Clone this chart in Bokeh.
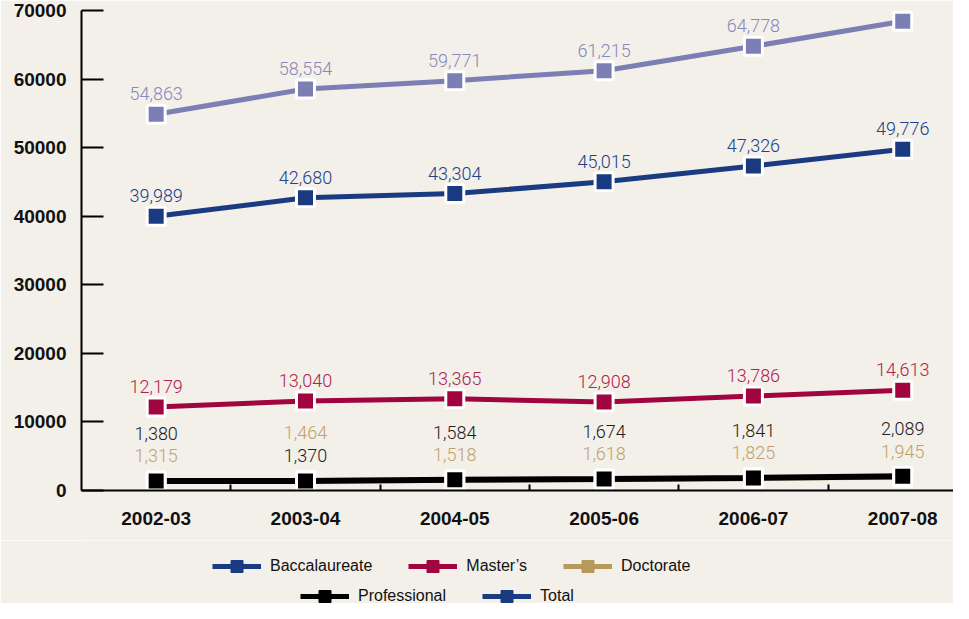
from bokeh.plotting import figure
from bokeh.layouts import column
from bokeh.models import ColumnDataSource, LabelSet, FixedTicker, Range1d, Legend, LegendItem
from bokeh.core.properties import value
from bokeh.embed import file_html
from bokeh.resources import INLINE

# ---- data ----
years = ["2002-03", "2003-04", "2004-05", "2005-06", "2006-07", "2007-08"]
baccalaureate = [39989, 42680, 43304, 45015, 47326, 49776]
masters = [12179, 13040, 13365, 12908, 13786, 14613]
doctorate = [1315, 1464, 1518, 1618, 1825, 1945]
professional = [1380, 1370, 1584, 1674, 1841, 2089]
total = [54863, 58554, 59771, 61215, 64778, 68423]
y_ticks = [0, 10000, 20000, 30000, 40000, 50000, 60000, 70000]

BG = "#f3efe9"
C_BAC = "#1a3a82"
C_TOT = "#7b7fb4"
C_MAS = "#a10540"
C_DOC = "#b8995c"
C_PRO = "#000000"

xs = list(range(len(years)))

MAIN_H = 540
LEG_H = 63

p = figure(width=953, height=MAIN_H, output_backend="svg", toolbar_location=None,
           x_range=Range1d(-0.5, 5.34), y_range=Range1d(0, 70000),
           min_border_left=81, min_border_right=0, min_border_top=10, min_border_bottom=50)
p.background_fill_color = BG
p.border_fill_color = BG
p.outline_line_color = None
p.grid.visible = False

# axes
xa = p.xaxis[0]
xa.ticker = FixedTicker(ticks=xs, minor_ticks=[i + 0.5 for i in xs[:-1]])
xa.major_label_overrides = {i: y for i, y in zip(xs, years)}
xa.major_tick_in = 0
xa.major_tick_out = 0
xa.minor_tick_in = 6
xa.minor_tick_out = 0
xa.minor_tick_line_color = "black"
xa.minor_tick_line_width = 2
xa.axis_line_width = 2
xa.axis_line_color = "black"
xa.major_label_text_font = "Liberation Sans"
xa.major_label_text_font_style = "bold"
xa.major_label_text_font_size = "19px"
xa.major_label_text_color = "#111111"
xa.major_label_standoff = 21

ya = p.yaxis[0]
ya.ticker = FixedTicker(ticks=y_ticks)
ya.minor_tick_line_color = None
ya.minor_tick_out = 0
ya.minor_tick_in = 0
ya.major_tick_in = 22
ya.major_tick_out = 0
ya.major_tick_line_width = 2
ya.major_tick_line_color = "black"
ya.axis_line_width = 2
ya.axis_line_color = "black"
ya.major_label_text_font = "Liberation Sans"
ya.major_label_text_font_style = "bold"
ya.major_label_text_font_size = "19px"
ya.major_label_text_color = "#111111"
ya.major_label_standoff = 15

LABEL_FONT = value("'Roboto Light', Roboto, 'Liberation Sans'")

def series(vals, color, lw, offsets):
    src = ColumnDataSource(dict(x=xs, y=vals, t=[f"{v:,}" for v in vals], off=offsets))
    p.line("x", "y", source=src, line_color=color, line_width=lw)
    return src

def markers(src, color):
    p.scatter("x", "y", source=src, marker="square", size=18, fill_color=color,
              line_color="white", line_width=3)

def labels(src, color):
    p.add_layout(LabelSet(x="x", y="y", text="t", source=src, y_offset="off",
                          text_align="center", text_baseline="alphabetic",
                          text_font=LABEL_FONT, text_font_size="18px", text_color=color))

# label offsets: the larger of the two small series sits on top
doc_off = [41 if d > pr else 19 for d, pr in zip(doctorate, professional)]
pro_off = [41 if pr >= d else 19 for d, pr in zip(doctorate, professional)]

s_doc = series(doctorate, C_DOC, 5, doc_off)
s_pro = series(professional, C_PRO, 6, pro_off)
s_mas = series(masters, C_MAS, 5, [14] * len(xs))
s_bac = series(baccalaureate, C_BAC, 5, [14] * len(xs))
s_tot = series(total, C_TOT, 5, [14] * len(xs))

for s, c in [(s_doc, C_DOC), (s_pro, C_PRO), (s_mas, C_MAS), (s_bac, C_BAC), (s_tot, C_TOT)]:
    markers(s, c)

labels(s_doc, "#c0a26a")
labels(s_pro, "#222222")
labels(s_mas, "#b0224f")
labels(s_bac, "#23418a")
labels(s_tot, "#8589bb")

# ---- legend strip ----
lp = figure(width=953, height=LEG_H, output_backend="svg", toolbar_location=None,
            x_range=Range1d(0, 1), y_range=Range1d(0, 1),
            min_border_left=0, min_border_right=0, min_border_top=0, min_border_bottom=0)
lp.background_fill_color = BG
lp.border_fill_color = BG
lp.outline_line_color = None
lp.grid.visible = False
lp.axis.visible = False

legend_names = ["Baccalaureate", "Master\u2019s", "Doctorate", "Professional", "Total"]
legend_colors = [C_BAC, C_MAS, C_DOC, C_PRO, C_BAC]
items = []
for name, c in zip(legend_names, legend_colors):
    nodata = ColumnDataSource(dict(x=[float("nan")], y=[float("nan")]))
    r1 = lp.line("x", "y", source=nodata, line_color=c, line_width=5)
    r2 = lp.scatter("x", "y", source=nodata, marker="square", fill_color=c, line_color=c, size=10)
    items.append(LegendItem(label=name, renderers=[r1, r2]))

def make_legend(its, loc):
    lg = Legend(items=its, location=loc, orientation="horizontal",
                glyph_width=49, glyph_height=30, label_standoff=9, spacing=36,
                padding=0, margin=0, border_line_color=None, background_fill_alpha=0,
                label_text_font="Liberation Sans",
                label_text_font_size="16px", label_text_color="#111111",
                label_height=20, click_policy="none")
    lp.add_layout(lg, "center")

make_legend(items[:3], (131, 22))
make_legend(items[3:], (219, -8))

open("out.html", "w").write(file_html(column(p, lp, spacing=0), INLINE))
